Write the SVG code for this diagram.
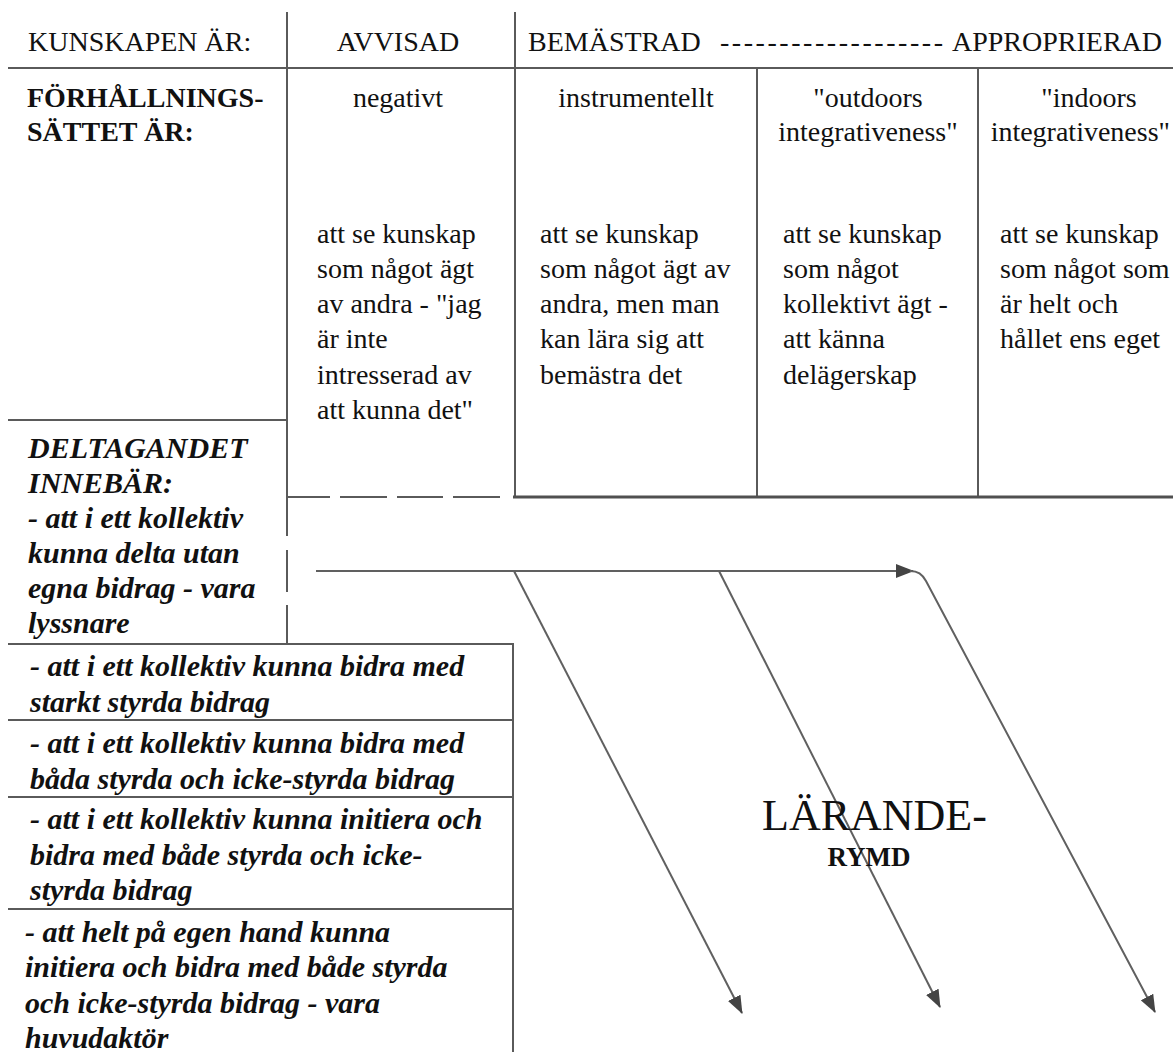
<svg xmlns="http://www.w3.org/2000/svg" width="1173" height="1052" viewBox="0 0 1173 1052">
<defs>
<style>
text{font-family:"Liberation Serif","Times New Roman",serif;fill:#111}
.h{font-size:28px}
.b{font-size:28px;font-weight:bold}
.bi{font-size:30px;font-weight:bold;font-style:italic}
.c{text-anchor:middle}
.grid line{stroke:#5a5a5a;stroke-width:2}
.conn{stroke:#606060;stroke-width:2;fill:none}
.big{font-size:44px}
.rymd{font-size:27px;font-weight:bold}
</style>
<marker id="ah" viewBox="0 0 18 14" refX="17" refY="7" markerWidth="18" markerHeight="14" orient="auto" markerUnits="userSpaceOnUse">
<path d="M0,0 L18,7 L0,14 z" fill="#444"/>
</marker>
</defs>
<rect width="1173" height="1052" fill="#fff"/>

<g id="grid" class="grid">
<line x1="287" y1="12" x2="287" y2="536"/>
<line x1="287" y1="550" x2="287" y2="592"/>
<line x1="287" y1="605" x2="287" y2="644"/>
<line x1="515" y1="12" x2="515" y2="497"/>
<line x1="8" y1="68" x2="1173" y2="68"/>
<line x1="757" y1="68" x2="757" y2="497"/>
<line x1="978" y1="68" x2="978" y2="497"/>
<line x1="513" y1="497" x2="1173" y2="497" style="stroke-width:3;stroke:#505050"/>
<line x1="287" y1="497" x2="330" y2="497"/>
<line x1="340" y1="497" x2="387" y2="497"/>
<line x1="397" y1="497" x2="443" y2="497"/>
<line x1="453" y1="497" x2="500" y2="497"/>
<line x1="8" y1="420" x2="287" y2="420"/>
<line x1="8" y1="644" x2="514" y2="644"/>
<line x1="513" y1="644" x2="513" y2="1052"/>
<line x1="8" y1="720" x2="513" y2="720"/>
<line x1="8" y1="797" x2="513" y2="797"/>
<line x1="8" y1="909" x2="513" y2="909"/>
</g>

<g id="header-kunskapen"><text class="h" x="28" y="51">KUNSKAPEN ÄR:</text></g>
<g id="header-avvisad"><text class="h c" x="398" y="51">AVVISAD</text></g>
<g id="header-scale">
<text class="h" x="528" y="51">BEMÄSTRAD</text>
<text class="h" x="720" y="51" textLength="223" lengthAdjust="spacing">-------------------</text>
<text class="h" x="1162" y="51" text-anchor="end">APPROPRIERAD</text>
</g>

<g id="label-forhallning">
<text class="b" x="27" y="107">FÖRHÅLLNINGS-</text>
<text class="b" x="27" y="141">SÄTTET ÄR:</text>
</g>

<g id="col-negativt">
<text class="h c" x="398" y="107">negativt</text>
<text class="h" x="317" y="243">att se kunskap</text>
<text class="h" x="317" y="278">som något ägt</text>
<text class="h" x="317" y="313">av andra - "jag</text>
<text class="h" x="317" y="348">är inte</text>
<text class="h" x="317" y="384">intresserad av</text>
<text class="h" x="317" y="419">att kunna det"</text>
</g>

<g id="col-instrumentellt">
<text class="h c" x="636" y="107">instrumentellt</text>
<text class="h" x="540" y="243">att se kunskap</text>
<text class="h" x="540" y="278">som något ägt av</text>
<text class="h" x="540" y="313">andra, men man</text>
<text class="h" x="540" y="348">kan lära sig att</text>
<text class="h" x="540" y="384">bemästra det</text>
</g>

<g id="col-outdoors">
<text class="h c" x="868" y="107">"outdoors</text>
<text class="h c" x="868" y="141">integrativeness"</text>
<text class="h" x="783" y="243">att se kunskap</text>
<text class="h" x="783" y="278">som något</text>
<text class="h" x="783" y="313">kollektivt ägt -</text>
<text class="h" x="783" y="348">att känna</text>
<text class="h" x="783" y="384">delägerskap</text>
</g>

<g id="col-indoors">
<text class="h c" x="1089" y="107">"indoors</text>
<text class="h" x="1170" y="141" text-anchor="end">integrativeness"</text>
<text class="h" x="1000" y="243">att se kunskap</text>
<text class="h" x="1000" y="278">som något som</text>
<text class="h" x="1000" y="313">är helt och</text>
<text class="h" x="1000" y="348">hållet ens eget</text>
</g>

<g id="deltagande-1">
<text class="bi" x="28" y="458">DELTAGANDET</text>
<text class="bi" x="28" y="493">INNEBÄR:</text>
<text class="bi" x="28" y="528">- att i ett kollektiv</text>
<text class="bi" x="28" y="563">kunna delta utan</text>
<text class="bi" x="28" y="598">egna bidrag - vara</text>
<text class="bi" x="28" y="633">lyssnare</text>
</g>

<g id="deltagande-2">
<text class="bi" x="30" y="676">- att i ett kollektiv kunna bidra med</text>
<text class="bi" x="30" y="712">starkt styrda bidrag</text>
</g>

<g id="deltagande-3">
<text class="bi" x="30" y="753">- att i ett kollektiv kunna bidra med</text>
<text class="bi" x="30" y="789">båda styrda och icke-styrda bidrag</text>
</g>

<g id="deltagande-4">
<text class="bi" x="30" y="829">- att i ett kollektiv kunna initiera och</text>
<text class="bi" x="30" y="865">bidra med både styrda och icke-</text>
<text class="bi" x="30" y="900">styrda bidrag</text>
</g>

<g id="deltagande-5">
<text class="bi" x="25" y="942">- att helt på egen hand kunna</text>
<text class="bi" x="25" y="977">initiera och bidra med både styrda</text>
<text class="bi" x="25" y="1013">och icke-styrda bidrag - vara</text>
<text class="bi" x="25" y="1048">huvudaktör</text>
</g>

<g id="connectors" class="conn">
<path d="M316,571 H913" marker-end="url(#ah)"/>
<path d="M514,571 L742,1013" marker-end="url(#ah)"/>
<path d="M719,571 L940,1007" marker-end="url(#ah)"/>
<path d="M910,571 C918,571 922,574 926,581 L1155,1012" marker-end="url(#ah)"/>
</g>

<g id="larande-rymd">
<text class="big" x="762" y="830">LÄRANDE-</text>
<text class="rymd c" x="869" y="866">RYMD</text>
</g>
</svg>
